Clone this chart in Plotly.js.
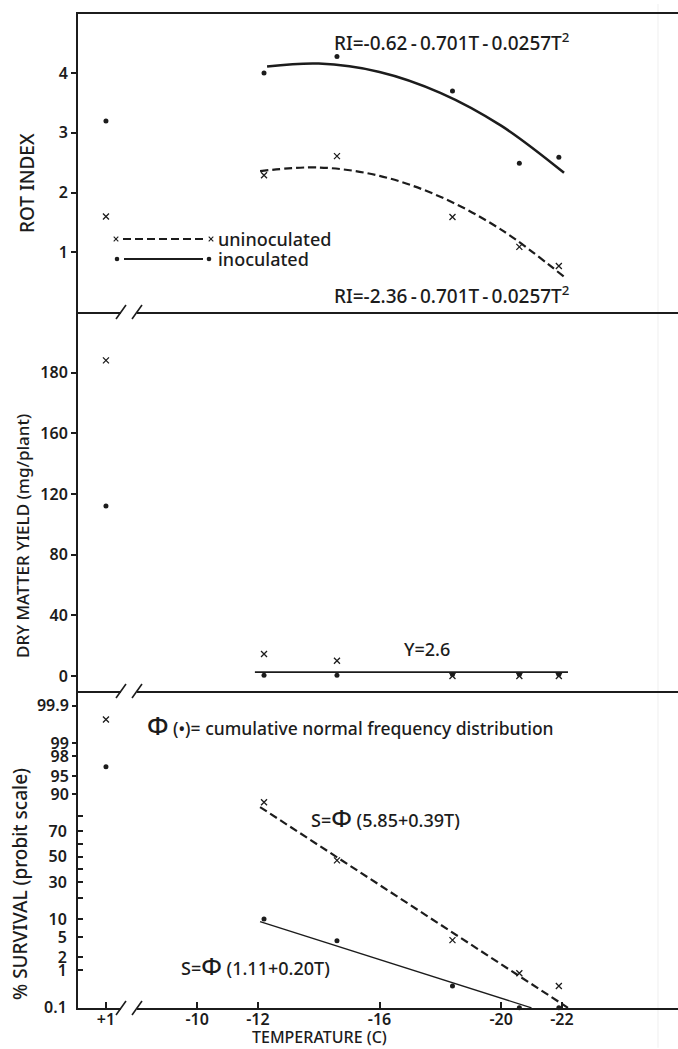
<!DOCTYPE html>
<html>
<head>
<meta charset="utf-8">
<script src="https://cdn.plot.ly/plotly-3.0.1.min.js"></script>
<style>
  html, body { margin: 0; padding: 0; background: #ffffff; }
  #chart { width: 678px; height: 1049px; }
</style>
</head>
<body>
<div id="chart"></div>
<script>
// ---------------- data ----------------
const TEMPS = [1, -12.2, -14.6, -18.4, -20.6, -21.9];          // temperature (C)

const ROT_UNINOC = [1.60, 2.29, 2.61, 1.59, 1.09, 0.77];        // rot index, uninoculated
const ROT_INOC   = [3.20, 4.00, 4.28, 3.70, 2.49, 2.59];        // rot index, inoculated

const YIELD_UNINOC = [184, 14.5, 10, 0, 0, 0];                  // mg/plant
const YIELD_INOC   = [112, 0.5, 0.5, 1, 1, 1];

const SURV_UNINOC = [99.75, 86.7, 47, 4.4, 0.86, 0.41];         // % survival
const SURV_INOC   = [96.7, 10.1, 4.3, 0.41, 0.1, 0.1];

// fitted curves as drawn in the reference
const RI_FIT_INOC_T   = [-12.3, -14, -16, -18, -20, -22.07];
const RI_FIT_INOC     = [4.11, 4.16, 4.02, 3.67, 3.12, 2.33];
const RI_FIT_UNINOC_T = [-12.07, -14, -16, -18, -20, -22.07];
const RI_FIT_UNINOC   = [2.36, 2.42, 2.28, 1.93, 1.38, 0.59];

const YIELD_FIT_T = [-11.9, -22.2];
const YIELD_FIT   = [2.6, 2.6];

const SURV_FIT_UNINOC_T = [-12.07, -22.2];
const SURV_FIT_UNINOC   = [84.5, 0.1];
const SURV_FIT_INOC_T   = [-12.07, -21.0];
const SURV_FIT_INOC     = [9.2, 0.1];

// tick labels
const X_TICK_TEMPS  = [1, -10, -12, -16, -20, -22];
const X_TICK_TEXT   = ['+1', '-10', '-12', '-16', '-20', '-22'];
const ROT_TICKS     = [1, 2, 3, 4];
const YIELD_TICKS   = [0, 40, 80, 120, 160, 180];
const SURV_TICKS_LOW       = [70, 50, 30, 10, 5, 2, 1, 0.1];
const SURV_TICKS_UNLABELED = [80, 60, 40, 20];
const SURV_TICKS_HIGH      = [99.9, 99, 98, 95, 90];

// ---------------- scales ----------------
// broken temperature axis: the +1 C column sits left of the break
const BREAK_POS = -7.0;
const xAxisPos = t => (t > -5 ? BREAK_POS : t);
// dry-matter axis: the reference places 180 one 40-unit step above 160
const yieldAxis = v => (v <= 160 ? v : 160 + (v - 160) * 2);
// probit scale (inverse standard normal CDF, Acklam)
function probit(pct) {
  const p = pct / 100;
  const a = [-3.969683028665376e+01, 2.209460984245205e+02, -2.759285104469687e+02,
             1.383577518672690e+02, -3.066479806614716e+01, 2.506628277459239e+00];
  const b = [-5.447609879822406e+01, 1.615858368580409e+02, -1.556989798598866e+02,
             6.680131188771972e+01, -1.328068155288572e+01];
  const c = [-7.784894002430293e-03, -3.223964580411365e-01, -2.400758277161838e+00,
             -2.549732539343734e+00, 4.374664141464968e+00, 2.938163982698783e+00];
  const d = [7.784695709041462e-03, 3.224671290700398e-01, 2.445134137142996e+00,
             3.754408661907416e+00];
  const pl = 0.02425, ph = 1 - pl;
  let q, r;
  if (p < pl) {
    q = Math.sqrt(-2 * Math.log(p));
    return (((((c[0]*q+c[1])*q+c[2])*q+c[3])*q+c[4])*q+c[5]) / ((((d[0]*q+d[1])*q+d[2])*q+d[3])*q+1);
  } else if (p <= ph) {
    q = p - 0.5; r = q * q;
    return (((((a[0]*r+a[1])*r+a[2])*r+a[3])*r+a[4])*r+a[5])*q / (((((b[0]*r+b[1])*r+b[2])*r+b[3])*r+b[4])*r+1);
  } else {
    q = Math.sqrt(-2 * Math.log(1 - p));
    return -(((((c[0]*q+c[1])*q+c[2])*q+c[3])*q+c[4])*q+c[5]) / ((((d[0]*q+d[1])*q+d[2])*q+d[3])*q+1);
  }
}

// ---------------- styling ----------------
const FONT = 'Noto Sans, DejaVu Sans, sans-serif';
const INK = '#1c1c1c';
const W = 678, H = 1049, ML = 78, MR = 0, MT = 14, MB = 41;
const PW = W - ML - MR, PH = H - MT - MB;
const px = x => (x - ML) / PW;          // pixel -> paper (decorations only)
const py = y => (H - MB - y) / PH;

const dotMarker = { symbol: 'circle', size: 5, color: INK };
const xMarker = { symbol: 'x-thin', size: 6, color: INK, line: { color: INK, width: 1.3 } };
const X = TEMPS.map(xAxisPos);

const traces = [
  // ---- rot index ----
  { x: RI_FIT_INOC_T, y: RI_FIT_INOC, xaxis: 'x', yaxis: 'y', mode: 'lines',
    line: { color: INK, width: 2.6, shape: 'spline' }, hoverinfo: 'skip' },
  { x: RI_FIT_UNINOC_T, y: RI_FIT_UNINOC, xaxis: 'x', yaxis: 'y', mode: 'lines',
    line: { color: INK, width: 2.2, dash: '8px,4px', shape: 'spline' }, hoverinfo: 'skip' },
  { x: X, y: ROT_INOC, xaxis: 'x', yaxis: 'y', mode: 'markers', marker: dotMarker, name: 'inoculated', cliponaxis: false },
  { x: X, y: ROT_UNINOC, xaxis: 'x', yaxis: 'y', mode: 'markers', marker: xMarker, name: 'uninoculated', cliponaxis: false },
  // ---- dry matter yield ----
  { x: YIELD_FIT_T, y: YIELD_FIT.map(yieldAxis), xaxis: 'x2', yaxis: 'y2', mode: 'lines',
    line: { color: INK, width: 1.8 }, hoverinfo: 'skip' },
  { x: X, y: YIELD_INOC.map(yieldAxis), xaxis: 'x2', yaxis: 'y2', mode: 'markers', marker: dotMarker, cliponaxis: false },
  { x: X, y: YIELD_UNINOC.map(yieldAxis), xaxis: 'x2', yaxis: 'y2', mode: 'markers', marker: xMarker, cliponaxis: false },
  // ---- survival ----
  { x: SURV_FIT_UNINOC_T, y: SURV_FIT_UNINOC.map(probit), xaxis: 'x3', yaxis: 'y3', mode: 'lines',
    line: { color: INK, width: 2.2, dash: '8px,4px' }, hoverinfo: 'skip', cliponaxis: false },
  { x: SURV_FIT_INOC_T, y: SURV_FIT_INOC.map(probit), xaxis: 'x3', yaxis: 'y3', mode: 'lines',
    line: { color: INK, width: 1.4 }, hoverinfo: 'skip', cliponaxis: false },
  { x: X, y: SURV_INOC.map(probit), xaxis: 'x3', yaxis: 'y3', mode: 'markers', marker: dotMarker, cliponaxis: false },
  { x: X, y: SURV_UNINOC.map(probit), xaxis: 'x3', yaxis: 'y4', mode: 'markers', marker: xMarker, cliponaxis: false },
];

const D1 = [py(312), 1], D2 = [py(691), py(312)], D3 = [0, py(691)];
const XR = [-6.08, -25.82];
const SR = [-3.094, 3.389];
const tickFont = { family: FONT, size: 16, color: INK, weight: 600 };

const baseX = {
  range: XR, showgrid: false, zeroline: false, showline: true, linecolor: INK, linewidth: 2,
  ticks: '', showticklabels: false, fixedrange: true,
};
const baseY = {
  showgrid: false, zeroline: false, showline: true, linecolor: INK, linewidth: 2,
  ticks: 'outside', ticklen: 5, tickwidth: 1.6, tickcolor: INK, tickfont: tickFont, fixedrange: true,
};

const layout = {
  width: W, height: H,
  margin: { l: ML, r: MR, t: MT, b: MB, pad: 0 },
  paper_bgcolor: '#ffffff', plot_bgcolor: '#ffffff',
  showlegend: false,
  font: { family: FONT, color: INK },
  xaxis:  Object.assign({}, baseX, { anchor: 'y', mirror: true }),
  xaxis2: Object.assign({}, baseX, { anchor: 'y2' }),
  xaxis3: Object.assign({}, baseX, {
    anchor: 'y3', ticks: 'inside', ticklen: 6, tickwidth: 1.6, tickcolor: INK,
    showticklabels: true, tickfont: tickFont, ticklabelstandoff: -4,
    tickmode: 'array', tickvals: X_TICK_TEMPS.map(xAxisPos), ticktext: X_TICK_TEXT,
  }),
  yaxis:  Object.assign({}, baseY, { domain: D1, anchor: 'x', range: [0, 4.99],
    tickmode: 'array', tickvals: ROT_TICKS, ticktext: ROT_TICKS.map(String) }),
  yaxis2: Object.assign({}, baseY, { domain: D2, anchor: 'x2', range: [-9.9, 239.9],
    tickmode: 'array', tickvals: YIELD_TICKS.map(yieldAxis), ticktext: YIELD_TICKS.map(String) }),
  yaxis3: Object.assign({}, baseY, { domain: D3, anchor: 'x3', range: SR,
    ticks: 'inside', ticklabelstandoff: 6,
    tickmode: 'array', tickvals: SURV_TICKS_LOW.map(probit), ticktext: SURV_TICKS_LOW.map(String),
    minor: { tickmode: 'array', tickvals: SURV_TICKS_UNLABELED.map(probit), ticks: 'inside',
             ticklen: 5, tickwidth: 1.6, tickcolor: INK, showgrid: false } }),
  yaxis4: Object.assign({}, baseY, { domain: D3, anchor: 'x3', overlaying: 'y3', range: SR,
    showline: false,
    tickmode: 'array', tickvals: SURV_TICKS_HIGH.map(probit), ticktext: SURV_TICKS_HIGH.map(String) }),
  shapes: [],
  annotations: [],
};

// axis breaks (gap + double slash) on each panel's bottom line
[312, 691, 1008].forEach(yy => {
  layout.shapes.push({ type: 'rect', xref: 'paper', yref: 'paper', x0: px(121), x1: px(137),
    y0: py(yy + 3), y1: py(yy - 3), fillcolor: '#ffffff', line: { width: 0 }, layer: 'above' });
  layout.shapes.push({ type: 'line', xref: 'paper', yref: 'paper', x0: px(116), y0: py(yy + 7),
    x1: px(126), y1: py(yy - 7), line: { color: INK, width: 1.6 }, layer: 'above' });
  layout.shapes.push({ type: 'line', xref: 'paper', yref: 'paper', x0: px(132), y0: py(yy + 7),
    x1: px(142), y1: py(yy - 7), line: { color: INK, width: 1.6 }, layer: 'above' });
});

// faint fold line of the scan
layout.shapes.push({ type: 'line', xref: 'paper', yref: 'paper', x0: px(658), x1: px(658),
  y0: -0.04, y1: 1.01, line: { color: '#efefef', width: 1 }, layer: 'below' });

// hand-drawn key
function keyX(cx, cy) {
  const s = 2.3;
  layout.shapes.push({ type: 'line', xref: 'paper', yref: 'paper', x0: px(cx - s), y0: py(cy - s), x1: px(cx + s), y1: py(cy + s), line: { color: INK, width: 1.1 } });
  layout.shapes.push({ type: 'line', xref: 'paper', yref: 'paper', x0: px(cx - s), y0: py(cy + s), x1: px(cx + s), y1: py(cy - s), line: { color: INK, width: 1.1 } });
}
function keyDot(cx, cy) {
  const r = 2.3;
  layout.shapes.push({ type: 'circle', xref: 'paper', yref: 'paper', x0: px(cx - r), x1: px(cx + r), y0: py(cy + r), y1: py(cy - r), fillcolor: INK, line: { color: INK, width: 0 } });
}
keyX(116, 239); keyX(211, 239);
layout.shapes.push({ type: 'line', xref: 'paper', yref: 'paper', x0: px(123), x1: px(203), y0: py(239), y1: py(239), line: { color: INK, width: 2.2, dash: '8px,4px' } });
keyDot(117, 259); keyDot(209, 259);
layout.shapes.push({ type: 'line', xref: 'paper', yref: 'paper', x0: px(124), x1: px(203), y0: py(259), y1: py(259), line: { color: INK, width: 1.8 } });

const TS = '\u2009';   // thin space around the minus signs, as set in the reference
function note(text, x, y, opts, size) {
  layout.annotations.push(Object.assign({
    text: text, xref: 'paper', yref: 'paper', x: px(x), y: py(y), xanchor: 'left', yanchor: 'middle',
    showarrow: false, font: { family: FONT, size: size || 18, color: INK, weight: 500 },
  }, opts || {}));
}
note('uninoculated', 216, 239);
note('inoculated', 216, 259);
note('RI=-0.62' + TS + '-' + TS + '0.701T' + TS + '-' + TS + '0.0257T<sup>2</sup>', 332, 42, null, 19);
note('RI=-2.36' + TS + '-' + TS + '0.701T' + TS + '-' + TS + '0.0257T<sup>2</sup>', 332, 295, null, 19);
note('Y=2.6', 427, 649, { xanchor: 'center' });
note('<span style="font-size:25px">Φ</span> (•)= cumulative normal frequency distribution', 145, 725, null, 17.5);
note('S=<span style="font-size:24px">Φ</span> (5.85+0.39T)', 309, 817);
note('S=<span style="font-size:24px">Φ</span> (1.11+0.20T)', 179, 965);
note('TEMPERATURE (C)', 319, 1037, { xanchor: 'center' }, 16);
note('ROT INDEX', 27, 183, { xanchor: 'center', textangle: -90 }, 19);
note('DRY MATTER YIELD (mg/plant)', 22, 536, { xanchor: 'center', textangle: -90 }, 17);
note('% SURVIVAL (probit scale)', 20, 884, { xanchor: 'center', textangle: -90 }, 19);

Plotly.newPlot('chart', traces, layout, { displayModeBar: false, responsive: false });
</script>
</body>
</html>
